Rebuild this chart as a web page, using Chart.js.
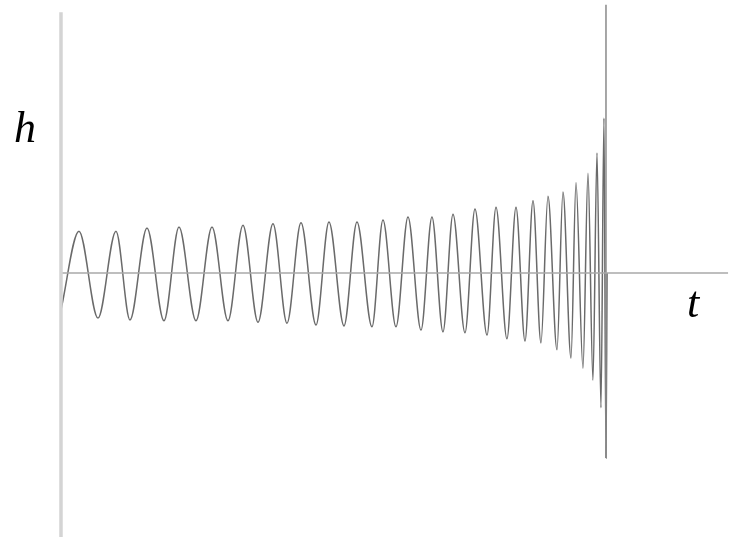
<!DOCTYPE html>
<html>
<head>
<meta charset="utf-8">
<script src="https://cdn.jsdelivr.net/npm/chart.js@4/dist/chart.umd.min.js"></script>
<style>
  html, body { margin: 0; padding: 0; background: #fff; }
  #wrap { width: 731px; height: 537px; }
</style>
</head>
<body>
<div id="wrap"><canvas id="chirp" width="731" height="537"></canvas></div>
<script>
// Chirp waveform: successive extremes of the strain h(t), merger at t = 100
const tValues = [
  0.00, 3.30, 6.79, 10.09, 12.66, 15.78, 18.90, 21.65, 24.77, 27.71,
  30.64, 33.39, 36.15, 38.90, 41.47, 44.04, 46.79, 49.17, 51.93, 54.31,
  57.06, 59.08, 61.47, 63.67, 66.06, 68.07, 70.09, 71.93, 74.13, 75.96,
  78.17, 79.82, 81.83, 83.49, 85.14, 86.61, 88.07, 89.36, 91.01, 92.11,
  93.58, 94.50, 95.78, 96.70, 97.61, 98.35, 99.08, 99.63, 100.00, 100.20
];
const hValues = [
  -8.0, 9.1, -9.8, 9.1, -10.2, 9.8, -10.4, 10.0, -10.4, 10.0,
  -10.4, 10.4, -10.7, 10.7, -10.9, 10.9, -11.3, 11.1, -11.5, 11.1,
  -11.7, 11.5, -11.7, 12.2, -12.4, 12.2, -12.8, 12.8, -13.0, 13.9,
  -13.5, 14.3, -14.3, 14.3, -14.8, 15.7, -15.2, 16.7, -16.7, 17.6,
  -18.5, 19.6, -20.7, 21.7, -23.3, 26.1, -29.3, 33.7, -40.2, 0.0
];

// Axis frame and merger marker
const mergerT = 100;
const mergerLine = [58.3, -40.2];     // h extent of the merger marker
const hAxisSpan = [56.7, -57.4];      // h extent of the vertical axis
const tAxisEnd = 122.4;               // t where the horizontal axis ends

const axisLabels = { h: 'h', t: 't' };

const waveData = tValues.map((t, i) => ({ x: t, y: hValues[i] }));

const labelPlugin = {
  id: 'axisLetters',
  afterDraw(chart) {
    const { ctx, scales } = chart;
    const xs = scales.x, ys = scales.y;
    ctx.save();
    ctx.fillStyle = '#000';
    ctx.font = 'italic 44px "Liberation Serif", "DejaVu Serif", serif';
    ctx.textBaseline = 'alphabetic';
    ctx.textAlign = 'left';
    ctx.fillText(axisLabels.h, xs.getPixelForValue(0) - 47, ys.getPixelForValue(0) - 131);
    ctx.fillText(axisLabels.t, xs.getPixelForValue(tAxisEnd) - 41, ys.getPixelForValue(0) + 44);
    ctx.restore();
  }
};

new Chart(document.getElementById('chirp'), {
  type: 'line',
  data: {
    datasets: [
      {
        label: 'h axis',
        data: [{ x: 0, y: hAxisSpan[0] }, { x: 0, y: hAxisSpan[1] }],
        borderColor: '#d4d4d4',
        borderWidth: 3.5,
        pointRadius: 0
      },
      {
        label: 't axis',
        data: [{ x: 0, y: 0 }, { x: tAxisEnd, y: 0 }],
        borderColor: '#a8a8a8',
        borderWidth: 1.5,
        pointRadius: 0
      },
      {
        label: 'merger',
        data: [{ x: mergerT, y: mergerLine[0] }, { x: mergerT, y: mergerLine[1] }],
        borderColor: '#8a8a8a',
        borderWidth: 1.5,
        pointRadius: 0
      },
      {
        label: 'h(t)',
        data: waveData,
        borderColor: '#6a6a6a',
        borderWidth: 1.5,
        pointRadius: 0,
        cubicInterpolationMode: 'monotone'
      }
    ]
  },
  options: {
    responsive: false,
    animation: false,
    layout: { padding: 0 },
    plugins: { legend: { display: false }, tooltip: { enabled: false } },
    scales: {
      x: { type: 'linear', min: -11.19, max: 122.94, display: false },
      y: { type: 'linear', min: -57.39, max: 59.35, display: false }
    }
  },
  plugins: [labelPlugin]
});
</script>
</body>
</html>
